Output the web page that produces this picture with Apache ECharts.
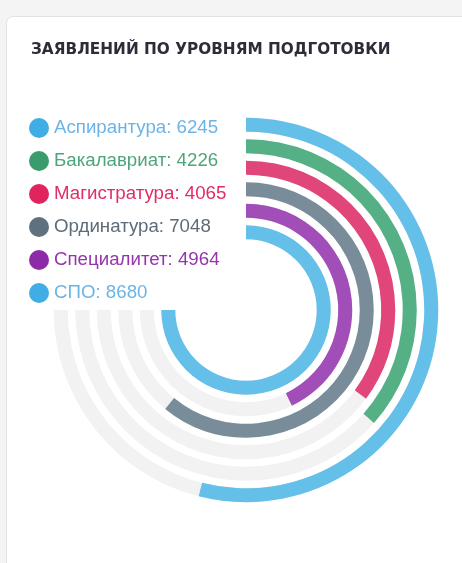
<!DOCTYPE html>
<html><head><meta charset="utf-8">
<script src="https://cdn.jsdelivr.net/npm/echarts@6/dist/echarts.min.js"></script>
<style>
html,body{margin:0;padding:0;width:462px;height:563px;background:#f4f4f4;overflow:hidden;}
#card{position:absolute;left:6px;top:16px;width:480px;height:580px;background:#fff;border:1px solid #e2e2e2;border-radius:7px;box-sizing:border-box;}
#chart{position:absolute;left:0;top:0;width:462px;height:563px;}
</style></head>
<body>
<div id="card"></div>
<div id="chart"></div>
<script>
const categories = ['Аспирантура','Бакалавриат','Магистратура','Ординатура','Специалитет','СПО'];
const values = [6245, 4226, 4065, 7048, 4964, 8680];
const barColors = ['#64bfe9','#55b185','#e0467a','#788c99','#a24eb8','#64bfe9'];
const iconColors = ['#40ade4','#3a9c6c','#e0245e','#5f717e','#8d2aa8','#40ade4'];
const textColors = ['#6cb4e8','#4fa57b','#e02d63','#5d6c78','#9535ad','#6cb4e8'];
const maxValue = 8680;
const trackValues = categories.map(() => maxValue);

const chart = echarts.init(document.getElementById('chart'), null, {renderer:'canvas'});
const series = [{
  type: 'bar',
  name: 'track',
  coordinateSystem: 'polar',
  polarIndex: 1,
  barWidth: 14,
  itemStyle: { color: '#f2f2f2' },
  data: trackValues,
  silent: true,
  z: 1,
  animation: false
}].concat(categories.map((name, i) => ({
  type: 'bar',
  name: name,
  coordinateSystem: 'polar',
  polarIndex: 0,
  stack: 'all',
  barWidth: 14,
  itemStyle: { color: barColors[i] },
  data: categories.map((c, j) => j === i ? values[i] : '-'),
  silent: true,
  z: 2,
  animation: false
})));

const angleAxisCfg = {
  type: 'value', min: 0, max: maxValue,
  startAngle: 90, endAngle: -180, clockwise: true,
  show: false
};
const radiusAxisCfg = {
  type: 'category', data: categories, inverse: true,
  show: false
};

chart.setOption({
  backgroundColor: 'transparent',
  title: {
    text: 'ЗАЯВЛЕНИЙ ПО УРОВНЯМ ПОДГОТОВКИ',
    left: 26, top: 38,
    textStyle: { fontFamily: 'DejaVu Sans', fontSize: 15.3, fontWeight: 600, color: '#2d2d3a' }
  },
  legend: {
    orient: 'vertical',
    left: 24, top: 113,
    icon: 'circle',
    itemWidth: 20, itemHeight: 20,
    itemGap: 13,
    selectedMode: false,
    data: categories.map((c, i) => ({
      name: c,
      itemStyle: { color: iconColors[i] },
      textStyle: { color: textColors[i] }
    })),
    textStyle: { fontFamily: 'Liberation Sans', fontSize: 18.7 },
    formatter: name => name + ': ' + values[categories.indexOf(name)]
  },
  polar: [
    { center: [246, 310], radius: [67, 196] },
    { center: [246, 310], radius: [67, 196] }
  ],
  angleAxis: [
    Object.assign({ polarIndex: 0 }, angleAxisCfg),
    Object.assign({ polarIndex: 1 }, angleAxisCfg)
  ],
  radiusAxis: [
    Object.assign({ polarIndex: 0 }, radiusAxisCfg),
    Object.assign({ polarIndex: 1 }, radiusAxisCfg)
  ],
  series: series
});
</script>
</body></html>
